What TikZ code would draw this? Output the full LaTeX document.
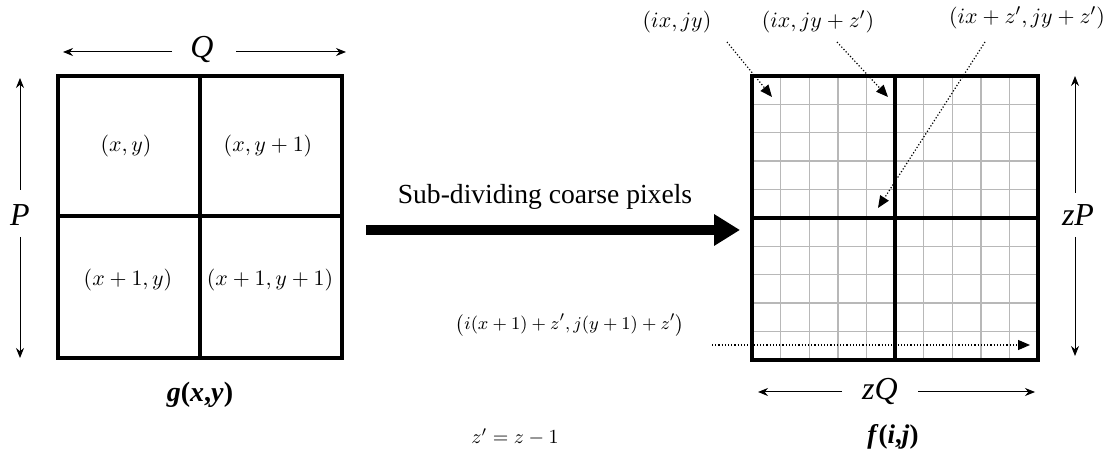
\documentclass[tikz,border=0pt]{standalone}
\usepackage{amsmath}
\usepackage{fontspec}
\setmainfont{Liberation Serif}
\usetikzlibrary{arrows.meta,positioning}

\begin{document}
\begin{tikzpicture}[x=0.5pt, y=-0.5pt,
  thickline/.style={line width=2pt},
  fineline/.style={line width=0.7pt, black!28},
  dimarr/.style={-{Stealth[length=5pt,width=4pt]}, line width=0.5pt},
  ptrarr/.style={-{Triangle[length=6pt,width=5pt]}, densely dotted, line width=0.6pt},
  bigarr/.style={-{Triangle[length=13pt,width=15pt]}, line width=5pt},
  cell/.style={font=\fontsize{11}{13}\selectfont},
  dimlabel/.style={font=\fontsize{16}{18}\selectfont\itshape, inner sep=0pt},
  ptlabel/.style={font=\fontsize{11}{13}\selectfont}]
\useasboundingbox (0,0) rectangle (1117,458);

% coarse image g(x,y)
\draw[thickline] (58,76) rectangle (342,358);
\draw[thickline] (200,76) -- (200,358) (58,216) -- (342,216);
\node[cell] (c11) at (126,146) {$(x,y)$};
\node[cell] (c12) at (268,146) {$(x,y+1)$};
\node[cell] (c21) at (128,280) {$(x+1,y)$};
\node[cell] (c22) at (270,280) {$(x+1,y+1)$};
\node[font=\fontsize{14}{16}\selectfont\bfseries] (g) at (200,395) {\textit{g}(\textit{x},\textit{y})};

% sizes P and Q
\node[dimlabel] (Q) at (202,50) {Q};
\coordinate (qleft) at (63,52);
\coordinate (qright) at (346,52);
\draw[dimarr] ([xshift=-15pt]Q.center |- qleft) -- (qleft);
\draw[dimarr] ([xshift=17pt]Q.center |- qright) -- (qright);
\node[dimlabel] (P) at (20,215) {P};
\coordinate (ptop) at (20,78);
\coordinate (pbot) at (20,358);
\draw[dimarr] ([yshift=12.5pt]P.center) -- (ptop);
\draw[dimarr] ([yshift=-11pt]P.center) -- (pbot);

% sub-dividing arrow
\coordinate (bigstart) at (366,230);
\coordinate (bigend) at (740,230);
\draw[bigarr] (bigstart) -- (bigend);
\node[font=\fontsize{13.8}{16}\selectfont] (sub) at (545,197) {Sub-dividing coarse pixels};

% fine image f(i,j)
\foreach \k in {1,...,9} {
  \draw[fineline] (752+28.6*\k,76) -- (752+28.6*\k,360);
  \draw[fineline] (752,76+28.4*\k) -- (1038,76+28.4*\k);
}
\draw[thickline] (752,76) rectangle (1038,360);
\draw[thickline] (895,76) -- (895,360) (752,218) -- (1038,218);
\node[font=\fontsize{13.5}{16}\selectfont\bfseries] (f) at (893,437) {\textit{f}(\textit{i},\textit{j})};

% sizes zP and zQ
\node[dimlabel] (zQ) at (880,392) {zQ};
\coordinate (zqleft) at (758,392);
\coordinate (zqright) at (1035,392);
\draw[dimarr] ([xshift=-19pt]zQ.center) -- (zqleft);
\draw[dimarr] ([xshift=19pt]zQ.center) -- (zqright);
\node[dimlabel] (zP) at (1078,215) {zP};
\coordinate (zptop) at (1075,76);
\coordinate (zpbot) at (1075,356);
\draw[dimarr] ([yshift=11pt]zP.center -| zptop) -- (zptop);
\draw[dimarr] ([yshift=-11pt]zP.center -| zpbot) -- (zpbot);

% pixel positions
\node[ptlabel] (p1) at (677,22) {$(ix,jy)$};
\node[ptlabel] (p2) at (818,22) {$(ix,jy+z')$};
\node[ptlabel] (p3) at (1027,18) {$(ix+z',jy+z')$};
\node[font=\fontsize{9.5}{11}\selectfont] (p4) at (570,325) {$\big(i(x+1)+z',j(y+1)+z'\big)$};
\coordinate (s1) at (727,42);  \coordinate (e1) at (772,97);
\coordinate (s2) at (837,42);  \coordinate (e2) at (888,97);
\coordinate (s3) at (985,42);  \coordinate (e3) at (878,208);
\coordinate (s4) at (712,345); \coordinate (e4) at (1030,345);
\foreach \s/\e in {s1/e1,s2/e2,s3/e3,s4/e4} \draw[ptrarr] (\s) -- (\e);

\node[font=\fontsize{10}{12}\selectfont] (zdef) at (515,437) {$z'=z-1$};
\end{tikzpicture}
\end{document}
